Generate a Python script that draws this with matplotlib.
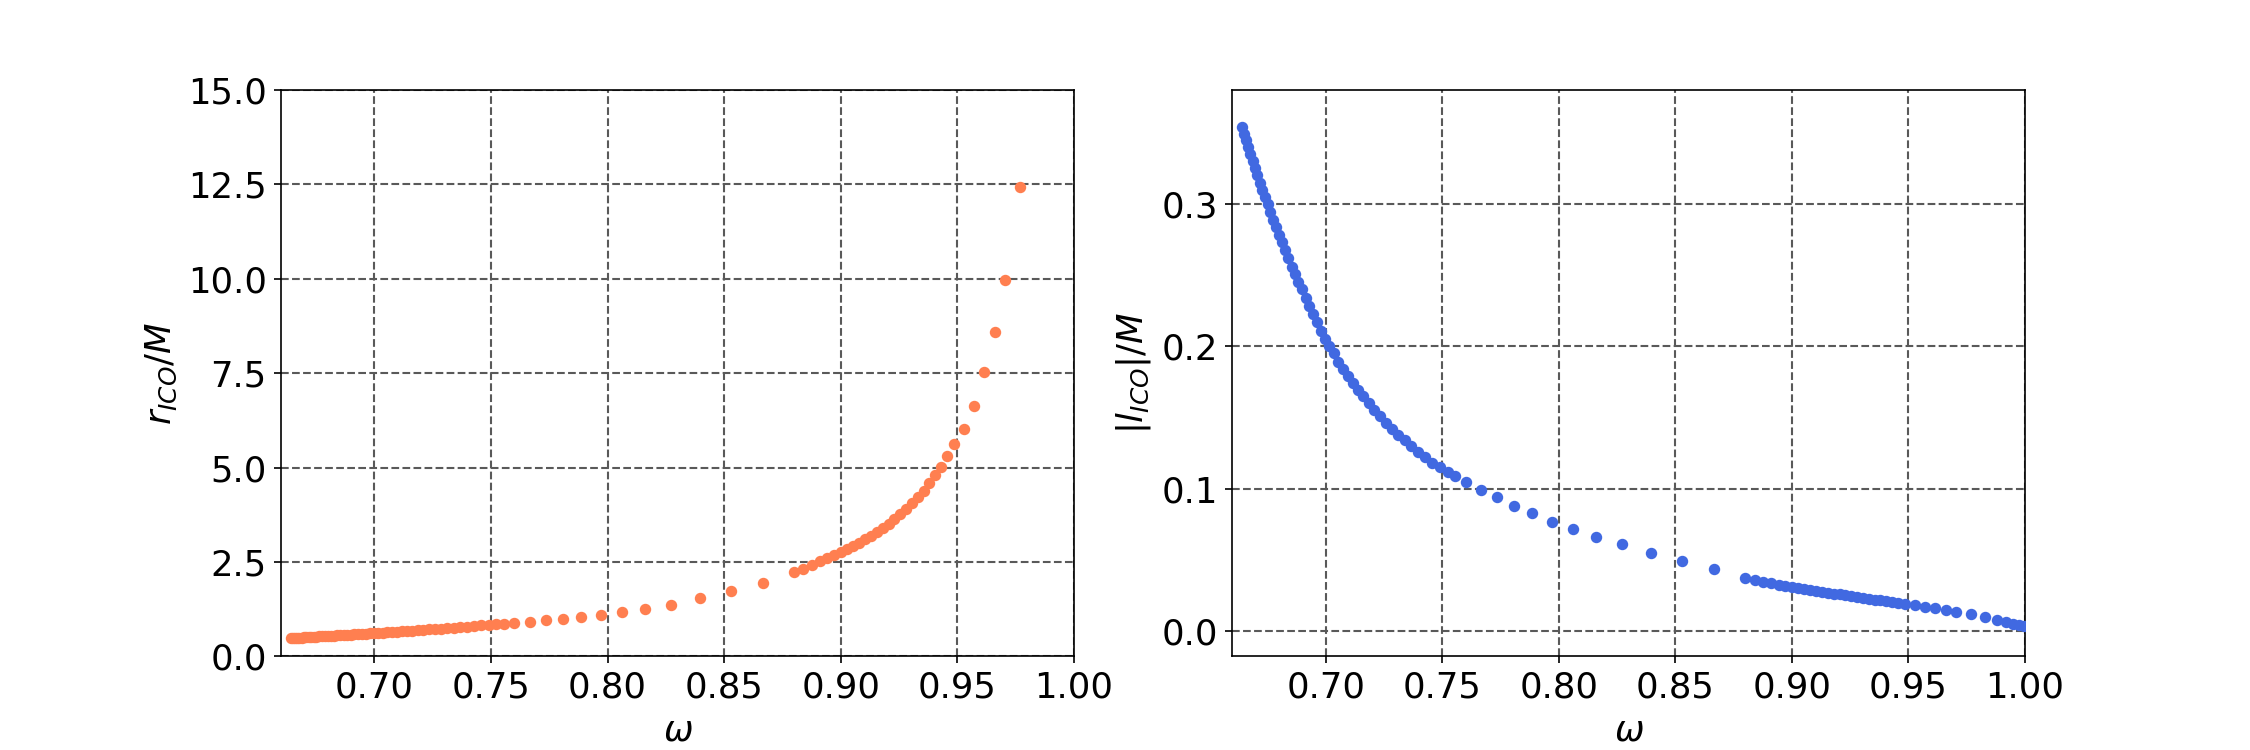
import numpy as np
import matplotlib
matplotlib.use("Agg")
import matplotlib.pyplot as plt

# omega grid (points above r=15 are out of view)
omega_r = [0.6640, 0.6649, 0.6658, 0.6667, 0.6677, 0.6687, 0.6697, 0.6707, 0.6718, 0.6729,
           0.6740, 0.6751, 0.6763, 0.6775, 0.6787, 0.6800, 0.6813, 0.6826, 0.6840, 0.6854,
           0.6868, 0.6883, 0.6898, 0.6914, 0.6930, 0.6946, 0.6963, 0.6980, 0.6998, 0.7016,
           0.7035, 0.7055, 0.7075, 0.7096, 0.7117, 0.7139, 0.7162, 0.7185, 0.7209, 0.7234,
           0.7259, 0.7285, 0.7312, 0.7340, 0.7368, 0.7397, 0.7427, 0.7458, 0.7490, 0.7523,
           0.7557,
           0.7600, 0.7665, 0.7735, 0.7808, 0.7885, 0.7970, 0.8060, 0.8160, 0.8270, 0.8395,
           0.8530, 0.8665,
           0.8800, 0.8840, 0.8878, 0.8912, 0.8943, 0.8972, 0.9000, 0.9027, 0.9053, 0.9079,
           0.9105, 0.9130, 0.9155, 0.9180, 0.9205, 0.9230, 0.9255, 0.9280, 0.9305, 0.9330,
           0.9355, 0.9380, 0.9405, 0.9430, 0.9457, 0.9487, 0.9527, 0.9570, 0.9613, 0.9660,
           0.9706, 0.9769]

r_ico = [0.480, 0.483, 0.486, 0.489, 0.493, 0.496, 0.500, 0.503, 0.507, 0.511,
         0.515, 0.519, 0.524, 0.528, 0.532, 0.537, 0.542, 0.547, 0.552, 0.557,
         0.562, 0.568, 0.573, 0.579, 0.586, 0.592, 0.599, 0.605, 0.612, 0.620,
         0.628, 0.636, 0.644, 0.653, 0.662, 0.671, 0.681, 0.691, 0.701, 0.712,
         0.723, 0.735, 0.747, 0.760, 0.773, 0.786, 0.800, 0.815, 0.830, 0.846,
         0.862,
         0.883, 0.915, 0.952, 0.995, 1.043, 1.097, 1.170, 1.250, 1.350, 1.530,
         1.740, 1.950,
         2.22, 2.32, 2.42, 2.51, 2.60, 2.68, 2.76, 2.84, 2.92, 3.01,
         3.10, 3.19, 3.29, 3.40, 3.51, 3.63, 3.76, 3.90, 4.05, 4.21,
         4.39, 4.58, 4.79, 5.02, 5.30, 5.62, 6.02, 6.64, 7.53, 8.58,
         9.97, 12.42]

# right panel goes on up to omega = 1
omega_l = omega_r + [0.9830, 0.9880, 0.9920, 0.9950, 0.9975, 0.9995]

l_ico = [0.354, 0.349, 0.345, 0.340, 0.335, 0.330, 0.325, 0.320, 0.315, 0.310,
         0.305, 0.300, 0.294, 0.289, 0.284, 0.278, 0.273, 0.268, 0.262, 0.256,
         0.251, 0.245, 0.240, 0.234, 0.228, 0.223, 0.217, 0.211, 0.205, 0.200,
         0.195, 0.189, 0.184, 0.179, 0.174, 0.169, 0.165, 0.160, 0.155, 0.151,
         0.146, 0.142, 0.138, 0.134, 0.130, 0.126, 0.122, 0.118, 0.115, 0.112,
         0.109,
         0.105, 0.099, 0.094, 0.088, 0.083, 0.077, 0.072, 0.066, 0.061, 0.055,
         0.049, 0.044,
         0.0370, 0.0357, 0.0346, 0.0336, 0.0327, 0.0318, 0.0310, 0.0303, 0.0296, 0.0289,
         0.0282, 0.0276, 0.0270, 0.0264, 0.0258, 0.0252, 0.0246, 0.0240, 0.0234, 0.0228,
         0.0222, 0.0216, 0.0210, 0.0204, 0.0197, 0.0190, 0.0181, 0.0171, 0.0160, 0.0148,
         0.0136, 0.0119,
         0.0100, 0.0082, 0.0066, 0.0053, 0.0042, 0.0033]

omega_ticks = [0.70, 0.75, 0.80, 0.85, 0.90, 0.95, 1.00]
r_ticks = [0.0, 2.5, 5.0, 7.5, 10.0, 12.5, 15.0]
l_ticks = [0.0, 0.1, 0.2, 0.3]

plt.rcParams['font.size'] = 17

fig, axes = plt.subplots(1, 2, figsize=(15, 5), dpi=150)
fig.subplots_adjust(bottom=0.125)

ax = axes[0]
ax.scatter(omega_r, r_ico, s=20, color='coral', zorder=3)
ax.set_xlim(0.66, 1.0)
ax.set_ylim(0, 15)
ax.set_xticks(omega_ticks)
ax.set_yticks(r_ticks)
ax.set_xlabel(r'$\omega$')
ax.set_ylabel(r'$r_{ICO}/M$')
ax.grid(True, linestyle='--', color='0.35', linewidth=1.0)

ax = axes[1]
ax.scatter(omega_l, l_ico, s=20, color='royalblue', zorder=3)
ax.set_xlim(0.66, 1.0)
ax.set_ylim(-0.0176, 0.38)
ax.set_xticks(omega_ticks)
ax.set_yticks(l_ticks)
ax.set_xlabel(r'$\omega$')
ax.set_ylabel(r'$|l_{ICO}|/M$')
ax.grid(True, linestyle='--', color='0.35', linewidth=1.0)

fig.savefig('out.png')
